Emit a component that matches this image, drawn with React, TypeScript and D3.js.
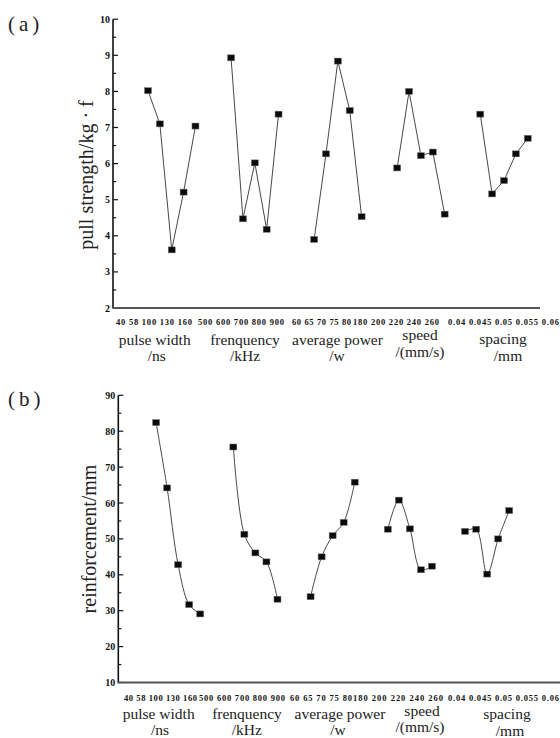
import React from "react";
import * as d3 from "d3";

const groupNames = ["pulse width", "frenquency", "average power", "speed", "spacing"];
const groupUnits = ["/ns", "/kHz", "/w", "/(mm/s)", "/mm"];
const tickLabels = [
  ["40", "58", "100", "130", "160"],
  ["500", "600", "700", "800", "900"],
  ["60", "65", "70", "75", "80"],
  ["180", "200", "220", "240", "260"],
  ["0.04", "0.045", "0.05", "0.055", "0.06"],
];
const pullStrength = [
  [8.02, 7.1, 3.61, 5.21, 7.04],
  [8.93, 4.47, 6.02, 4.18, 7.37],
  [3.9, 6.27, 8.84, 7.47, 4.53],
  [5.88, 8.0, 6.22, 6.32, 4.6],
  [7.37, 5.16, 5.53, 6.27, 6.7],
];
const reinforcement = [
  [82.4, 64.2, 42.8, 31.7, 29.1],
  [75.6, 51.3, 46.1, 43.6, 33.2],
  [33.9, 45.0, 50.9, 54.6, 65.8],
  [52.7, 60.8, 52.8, 41.4, 42.4],
  [52.1, 52.7, 40.2, 50.0, 57.9],
];
const pullTicks = [2, 3, 4, 5, 6, 7, 8, 9, 10];
const reinfTicks = [10, 20, 30, 40, 50, 60, 70, 80, 90];

const SERIF = "'Liberation Serif', 'Times New Roman', serif";

type PanelCfg = {
  tag: string;
  tagX: number;
  tagY: number;
  title: string;
  titleX: number;
  titleY: number;
  values: number[][];
  yTicks: number[];
  yMinorStep: number;
  yDomain: [number, number];
  yRange: [number, number];
  xDomain: [number, number];
  xRange: [number, number];
  axisX: number;
  axisEnd: number;
  curve: d3.CurveFactory;
  tickSpans: [number, number][];
  tickY: number;
  nameX: number[];
  unitX: number[];
  nameY: number[];
  unitY: number[];
};

const panels: PanelCfg[] = [
  {
    tag: "(a)",
    tagX: 8,
    tagY: 31,
    title: "pull strength/kg · f",
    titleX: 93,
    titleY: 175,
    values: pullStrength,
    yTicks: pullTicks,
    yMinorStep: 0.5,
    yDomain: [2, 10],
    yRange: [308, 19.2],
    xDomain: [0, 36],
    xRange: [112.4, 539.6],
    axisX: 113,
    axisEnd: 540,
    curve: d3.curveLinear,
    tickSpans: [
      [116, 192],
      [198, 284],
      [292, 351],
      [353, 439],
      [448, 559],
    ],
    tickY: 324.5,
    nameX: [154.7, 245, 337.5, 420, 503],
    unitX: [156.7, 245, 337, 420, 508],
    nameY: [345, 345, 345, 340, 344],
    unitY: [361, 361, 361, 357, 360.5],
  },
  {
    tag: "(b)",
    tagX: 8,
    tagY: 406,
    title: "reinforcement/mm",
    titleX: 96,
    titleY: 539,
    values: reinforcement,
    yTicks: reinfTicks,
    yMinorStep: 5,
    yDomain: [10, 90],
    yRange: [682.5, 395.3],
    xDomain: [-0.45, 39.6],
    xRange: [118, 560],
    axisX: 118.3,
    axisEnd: 560,
    curve: d3.curveCatmullRom.alpha(0.5),
    tickSpans: [
      [124, 197],
      [199, 285],
      [290, 352],
      [353, 443],
      [448, 559],
    ],
    tickY: 701,
    nameX: [158.7, 247, 340, 422, 507],
    unitX: [160, 246.7, 338, 420, 510],
    nameY: [719, 719, 719, 716, 719],
    unitY: [735, 735, 735, 732, 735.5],
  },
];

function Panel({ cfg }: { cfg: PanelCfg }) {
  const y = d3.scaleLinear().domain(cfg.yDomain).range(cfg.yRange);
  const x = d3.scaleLinear().domain(cfg.xDomain).range(cfg.xRange);
  const slot = (g: number, i: number) => 3 + g * 7 + i;
  const minor = d3.range(cfg.yDomain[0], cfg.yDomain[1] + 1e-9, cfg.yMinorStep);
  const bottom = y(cfg.yDomain[0]);
  const top = y(cfg.yDomain[1]);
  return (
    <g>
      <text
        x={cfg.tagX}
        y={cfg.tagY}
        style={{ fontFamily: SERIF }}
        fontSize={21}
        letterSpacing={4}
        fill="#222"
      >
        {cfg.tag}
      </text>
      <text
        transform={`translate(${cfg.titleX},${cfg.titleY}) rotate(-90)`}
        textAnchor="middle"
        style={{ fontFamily: SERIF }}
        fontSize={20}
        fill="#222"
      >
        {cfg.title}
      </text>
      <line x1={cfg.axisX} x2={cfg.axisX} y1={top} y2={bottom} stroke="#111" strokeWidth={1.6} />
      {minor.map((t) => {
        const major = Math.abs(t - Math.round(t / (cfg.yMinorStep * 2)) * cfg.yMinorStep * 2) < 1e-6;
        return (
          <line
            key={`m${t}`}
            x1={cfg.axisX}
            x2={cfg.axisX + (major ? 5 : 3)}
            y1={y(t)}
            y2={y(t)}
            stroke="#111"
            strokeWidth={1.2}
          />
        );
      })}
      {cfg.yTicks.map((t) => (
        <text
          key={`t${t}`}
          x={cfg.axisX - 3}
          y={y(t)}
          dy="0.35em"
          textAnchor="end"
          style={{ fontFamily: SERIF }}
          fontWeight="bold"
          fontSize={10}
          fill="#111"
        >
          {t}
        </text>
      ))}
      <line x1={cfg.axisX - 0.8} x2={cfg.axisEnd} y1={bottom} y2={bottom} stroke="#555" strokeWidth={1.8} />
      {tickLabels.map((labels, g) => (
        <text
          key={`xl${g}`}
          x={cfg.tickSpans[g][0]}
          y={cfg.tickY}
          textLength={cfg.tickSpans[g][1] - cfg.tickSpans[g][0]}
          lengthAdjust="spacing"
          style={{ fontFamily: SERIF }}
          fontWeight="bold"
          fontSize={8.5}
          fill="#111"
        >
          {labels.join(" ")}
        </text>
      ))}
      {groupNames.map((n, g) => (
        <g key={`gn${g}`} style={{ fontFamily: SERIF }} fontSize={15.5} fill="#222" textAnchor="middle">
          <text x={cfg.nameX[g]} y={cfg.nameY[g]}>
            {n}
          </text>
          <text x={cfg.unitX[g]} y={cfg.unitY[g]}>
            {groupUnits[g]}
          </text>
        </g>
      ))}
      {cfg.values.map((vals, g) => {
        const l = d3
          .line<number>()
          .x((_, i) => x(slot(g, i)))
          .y((v) => y(v))
          .curve(cfg.curve);
        return (
          <g key={`s${g}`}>
            <path d={l(vals) || ""} fill="none" stroke="#333" strokeWidth={0.9} />
            {vals.map((v, i) => (
              <rect
                key={i}
                x={x(slot(g, i)) - 3.5}
                y={y(v) - 3}
                width={7}
                height={6}
                fill="#0a0a0a"
                stroke="#777"
                strokeWidth={0.5}
              />
            ))}
          </g>
        );
      })}
    </g>
  );
}

export default function App() {
  return (
    <svg
      width={560}
      height={738}
      viewBox="0 0 560 738"
      style={{ position: "absolute", left: 0, top: 0, background: "#fff" }}
    >
      <rect x={0} y={0} width={560} height={738} fill="#fff" />
      {panels.map((p) => (
        <Panel key={p.tag} cfg={p} />
      ))}
    </svg>
  );
}
